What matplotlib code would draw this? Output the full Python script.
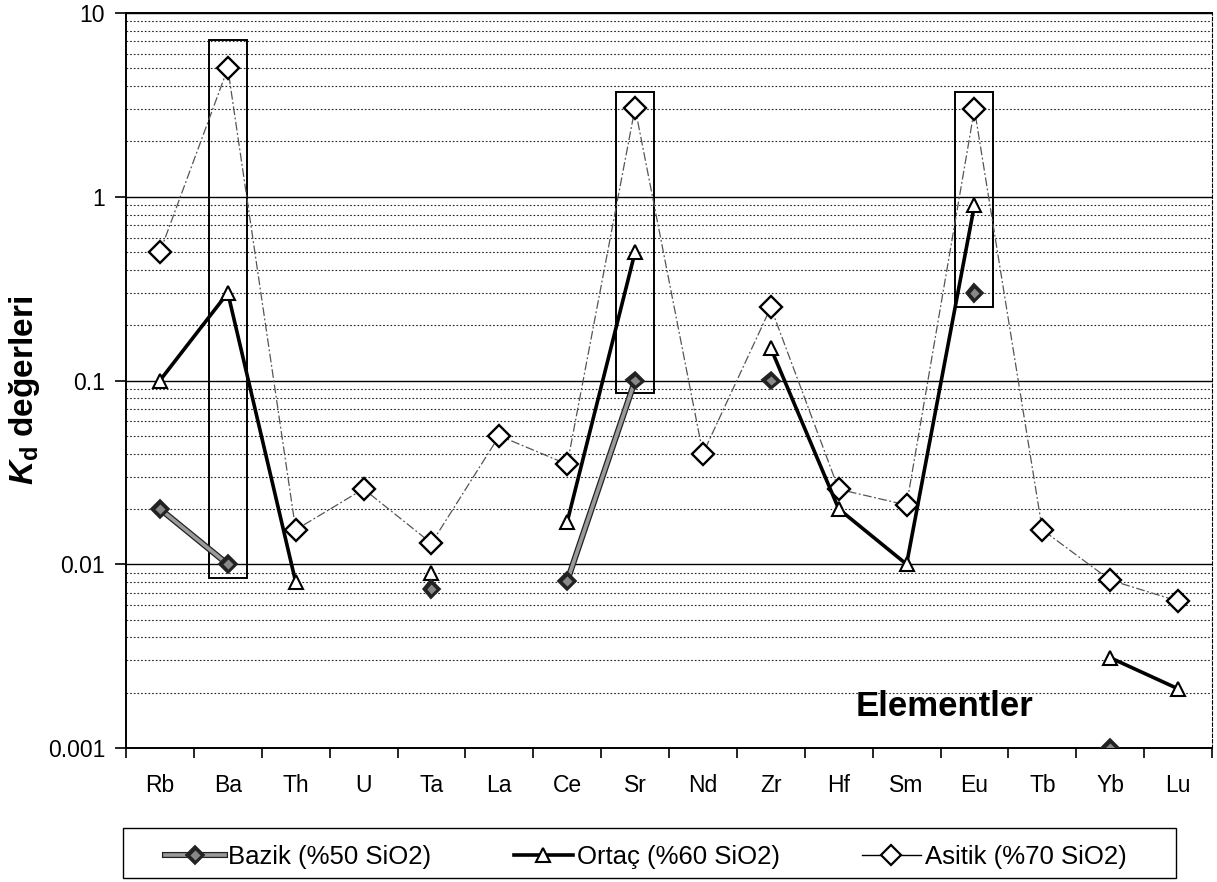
import numpy as np
import matplotlib
matplotlib.use('Agg')
import matplotlib.pyplot as plt
import matplotlib.patheffects as pe
from matplotlib.patches import Rectangle
from matplotlib.ticker import FixedLocator, FixedFormatter, NullFormatter, LogLocator

plt.rcParams['font.family'] = ['Liberation Sans', 'DejaVu Sans']
plt.rcParams['mathtext.fontset'] = 'custom'
plt.rcParams['mathtext.it'] = 'Liberation Sans:italic:bold'
plt.rcParams['mathtext.rm'] = 'Liberation Sans:bold'

nan = np.nan

# elementler ve Kd degerleri
elements = ['Rb', 'Ba', 'Th', 'U', 'Ta', 'La', 'Ce', 'Sr', 'Nd', 'Zr', 'Hf', 'Sm', 'Eu', 'Tb', 'Yb', 'Lu']
bazik = [0.02, 0.01, nan, nan, 0.0073, nan, 0.0081, 0.1, nan, 0.1, nan, nan, 0.3, nan, 0.001, nan]
ortac = [0.1, 0.3, 0.008, nan, 0.009, nan, 0.017, 0.5, nan, 0.15, 0.02, 0.01, 0.9, nan, 0.0031, 0.0021]
asitik = [0.5, 5.0, 0.0154, 0.0257, 0.013, 0.05, 0.035, 3.05, 0.04, 0.25, 0.0256, 0.021, 3.0, 0.0154, 0.0082, 0.0063]

# isaretli kutular
box_elements = ['Ba', 'Sr', 'Eu']
box_low = [0.0084, 0.085, 0.25]
box_high = [7.1, 3.7, 3.7]

yticks = [0.001, 0.01, 0.1, 1, 10]
ytick_labels = ['0.001', '0.01', '0.1', '1', '10']

fig = plt.figure(figsize=(12.17, 8.82), dpi=100)
ax = fig.add_axes([126 / 1217, 1 - 748 / 882, (1212 - 126) / 1217, 735 / 882])
x = np.arange(len(elements))

ax.set_yscale('log')
ax.set_ylim(0.001, 10)
ax.set_xlim(-0.5, len(elements) - 0.5)

ax.yaxis.set_major_locator(FixedLocator(yticks))
ax.yaxis.set_major_formatter(FixedFormatter(ytick_labels))
ax.yaxis.set_minor_locator(LogLocator(base=10, subs=np.arange(2, 10)))
ax.yaxis.set_minor_formatter(NullFormatter())
ax.yaxis.grid(True, which='major', color='black', lw=1.0)
ax.yaxis.grid(True, which='minor', color='#222222', lw=0.8, linestyle=(0, (1.5, 1.8)))
ax.set_axisbelow(True)
ax.tick_params(axis='y', which='major', length=8, width=1.2, labelsize=16.5, pad=7)
ax.tick_params(axis='y', which='minor', length=0)

ax.set_xticks(x)
ax.set_xticklabels(elements)
ax.set_xticks(np.arange(-0.5, len(elements), 1), minor=True)
ax.tick_params(axis='x', which='major', length=0, labelsize=16.5, pad=19)
ax.tick_params(axis='x', which='minor', length=7, width=1.2)

for side in ['left', 'bottom', 'top']:
    ax.spines[side].set_linewidth(1.4)
ax.spines['right'].set_linewidth(0.8)
ax.spines['right'].set_linestyle((0, (3, 2)))

for el, lo, hi in zip(box_elements, box_low, box_high):
    i = elements.index(el)
    ax.add_patch(Rectangle((i - 0.28, lo), 0.56, hi - lo, fill=False,
                           edgecolor='black', lw=1.4, zorder=2))

l_asit, = ax.plot(x, asitik, color='#555555', lw=0.9, ls=(0, (7, 2, 1.5, 2)),
                  marker='D', ms=11, mfc='white', mec='black', mew=1.7, zorder=3)
l_ortac, = ax.plot(x, ortac, color='black', lw=2.6, marker='^', ms=10.5,
                   mfc='white', mec='black', mew=1.5, zorder=4)
l_baz, = ax.plot(x, bazik, color='#9a9a9a', lw=2.6, marker='D', ms=6,
                 mfc='#888888', mec='#222222', mew=1.0, zorder=5,
                 path_effects=[pe.Stroke(linewidth=4.4, foreground='#222222'), pe.Normal()])

ax.text(0.754, 0.056, 'Elementler', transform=ax.transAxes, fontsize=25,
        fontweight='bold', ha='center', va='center')

fig.text(25 / 1217, 1 - 390 / 882, r'$K_{\mathrm{d}}$ değerleri', rotation=90,
         fontsize=24, fontweight='bold', ha='center', va='center')

# legend: ayri cerceve + cercevesiz legend
fig.patches.append(Rectangle((123 / 1217, 4 / 882), (1176 - 123) / 1217, 50 / 882,
                             transform=fig.transFigure, fill=False,
                             edgecolor='black', lw=1.0))
leg_asit = plt.Line2D([], [], color='black', lw=1, marker='D', ms=10, mfc='white', mec='black', mew=1.6)
leg = fig.legend([l_baz, l_ortac, leg_asit],
                 ['Bazik (%50 SiO2)', 'Ortaç (%60 SiO2)', 'Asitik (%70 SiO2)'],
                 loc='center', ncol=3, bbox_to_anchor=(646 / 1217, 1 - 857 / 882),
                 frameon=False, fontsize=18.5, handlelength=2.3,
                 handletextpad=0.15, columnspacing=3.2, borderpad=0, borderaxespad=0)

fig.savefig('out.png', dpi=100)
